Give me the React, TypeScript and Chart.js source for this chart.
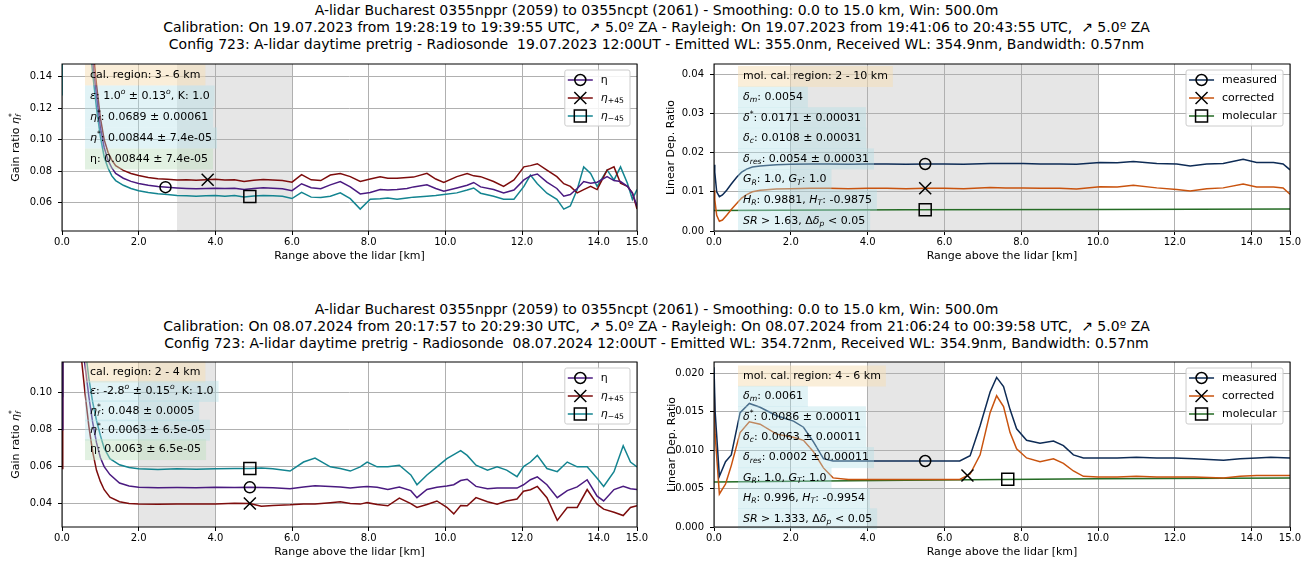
import React, { useEffect, useRef } from 'react';
import { Chart, registerables } from 'chart.js';
Chart.register(...registerables);

const FAM = '"DejaVu Sans", sans-serif';

// ---------------- titles ----------------
const TITLE_TOP = [
  'A-lidar Bucharest 0355nppr (2059) to 0355ncpt (2061) - Smoothing: 0.0 to 15.0 km, Win: 500.0m',
  'Calibration: On 19.07.2023 from 19:28:19 to 19:39:55 UTC,  \u2197 5.0\u00ba ZA - Rayleigh: On 19.07.2023 from 19:41:06 to 20:43:55 UTC,  \u2197 5.0\u00ba ZA',
  'Config 723: A-lidar daytime pretrig - Radiosonde  19.07.2023 12:00UT - Emitted WL: 355.0nm, Received WL: 354.9nm, Bandwidth: 0.57nm',
];
const TITLE_BOTTOM = [
  'A-lidar Bucharest 0355nppr (2059) to 0355ncpt (2061) - Smoothing: 0.0 to 15.0 km, Win: 500.0m',
  'Calibration: On 08.07.2024 from 20:17:57 to 20:29:30 UTC,  \u2197 5.0\u00ba ZA - Rayleigh: On 08.07.2024 from 21:06:24 to 00:39:58 UTC,  \u2197 5.0\u00ba ZA',
  'Config 723: A-lidar daytime pretrig - Radiosonde  08.07.2024 12:00UT - Emitted WL: 354.72nm, Received WL: 354.9nm, Bandwidth: 0.57nm',
];

const X_TICKS = [0, 2, 4, 6, 8, 10, 12, 14, 15];
const X_TITLE = 'Range above the lidar [km]';

// ---------------- top-left: gain ratio 2023 ----------------
const TL_X = [0, 0.03, 0.6, 0.8, 0.9, 1.0, 1.1, 1.2, 1.3, 1.4, 1.6, 1.8,
  2.0, 2.25, 2.5, 2.75, 3.0, 3.25, 3.5, 3.75, 4.0, 4.25, 4.5, 4.75, 5.0, 5.25, 5.5, 5.75, 6.0, 6.25, 6.5, 6.75, 7.0,
  7.26, 7.52, 7.78, 8.04, 8.3, 8.5, 8.74, 9.0, 9.17, 9.52, 9.75, 9.96,
  10.3, 10.57, 10.74, 10.92, 11.26, 11.52, 11.79,
  12.05, 12.22, 12.4, 12.65, 12.91, 13.09, 13.26, 13.44, 13.61, 13.79, 13.96,
  14.22, 14.4, 14.57, 14.75, 14.88, 15.0];
const TL_ETA = [0.30, 0.30, 0.20, 0.150, 0.128, 0.108, 0.095, 0.087, 0.082, 0.0785, 0.0755, 0.0735,
  0.0722, 0.0710, 0.0702, 0.0697, 0.0693, 0.0690, 0.0688, 0.0690, 0.0692, 0.0689, 0.0691, 0.0684, 0.0690, 0.0694, 0.0691, 0.0688, 0.0676, 0.0720, 0.0695, 0.0688, 0.0713,
  0.0734, 0.0700, 0.0655, 0.0665, 0.0683, 0.0680, 0.0683, 0.0690, 0.0700, 0.0713, 0.0690, 0.0672,
  0.0693, 0.0710, 0.0728, 0.0700, 0.0683, 0.0662, 0.0680,
  0.0744, 0.0770, 0.0782, 0.0730, 0.0690, 0.0641, 0.0652, 0.0690, 0.0734, 0.0723, 0.0730,
  0.0765, 0.0740, 0.0734, 0.0703, 0.0660, 0.0579];
const TL_ETA_P45 = [0.30, 0.30, 0.21, 0.160, 0.135, 0.114, 0.100, 0.092, 0.087, 0.0835, 0.0805, 0.0785,
  0.0772, 0.0760, 0.0752, 0.0748, 0.0744, 0.0746, 0.0742, 0.0745, 0.0748, 0.0743, 0.0746, 0.0735, 0.0742, 0.0747, 0.0744, 0.0740, 0.0730, 0.0778, 0.0745, 0.0740, 0.0775,
  0.0785, 0.0765, 0.0734, 0.0750, 0.0765, 0.0755, 0.0755, 0.0760, 0.0762, 0.0786, 0.0750, 0.0728,
  0.0765, 0.0785, 0.0770, 0.0765, 0.0734, 0.0703, 0.0744,
  0.0827, 0.0835, 0.0847, 0.0806, 0.0765, 0.0720, 0.0703, 0.0662, 0.0683, 0.0703, 0.0683,
  0.0806, 0.0827, 0.0723, 0.0703, 0.0662, 0.0559];
const TL_ETA_M45 = [0.128, 0.30, 0.19, 0.142, 0.120, 0.102, 0.089, 0.082, 0.077, 0.074, 0.0710, 0.0690,
  0.0676, 0.0664, 0.0656, 0.0651, 0.0646, 0.0644, 0.0641, 0.0643, 0.0646, 0.0641, 0.0645, 0.0636, 0.0642, 0.0646, 0.0644, 0.0640, 0.0626, 0.0665, 0.0635, 0.0632, 0.0641,
  0.0662, 0.0625, 0.0559, 0.0621, 0.0625, 0.0630, 0.0621, 0.0630, 0.0635, 0.0641, 0.0645, 0.0652,
  0.0662, 0.0680, 0.0693, 0.0660, 0.0641, 0.0621, 0.0621,
  0.0703, 0.0775, 0.0720, 0.0660, 0.0621, 0.0559, 0.0579, 0.0683, 0.0827, 0.0785, 0.0703,
  0.0806, 0.0744, 0.0827, 0.0723, 0.0621, 0.0683];

// ---------------- top-right: depolarization 2023 ----------------
const TR_X = [0, 0.02, 0.07, 0.14, 0.22, 0.33, 0.45, 0.59, 0.72, 0.85, 1.0, 1.2, 1.45, 1.63,
  2.0, 2.5, 3.0, 3.5, 4.0, 4.5, 5.0, 5.5, 6.0, 6.5, 7.19, 7.6, 8.05, 8.5, 9.0, 9.44,
  10.05, 10.5, 10.92, 11.53, 12.05, 12.4, 12.83, 13.26, 13.78, 14.13, 14.57, 14.82, 15.0];
const TR_MEASURED = [0.0169, 0.0150, 0.0100, 0.00875, 0.0092, 0.0104, 0.0120, 0.0137, 0.0150, 0.0158, 0.0163, 0.0166, 0.0168, 0.0169,
  0.0170, 0.0171, 0.0171, 0.0170, 0.0171, 0.0171, 0.0170, 0.0171, 0.0171, 0.0170, 0.01725, 0.0172, 0.0172, 0.0171, 0.0171, 0.0170,
  0.0175, 0.0174, 0.0177, 0.0172, 0.0171, 0.0166, 0.0171, 0.0172, 0.0183, 0.0175, 0.0175, 0.0171, 0.0156];
const TR_CORRECTED = [0.0104, 0.0080, 0.0040, 0.0025, 0.0028, 0.0040, 0.0055, 0.0070, 0.0084, 0.0093, 0.0100, 0.0104, 0.0106, 0.0107,
  0.0108, 0.0109, 0.0109, 0.0108, 0.0109, 0.0109, 0.0108, 0.0109, 0.0109, 0.0108, 0.0111, 0.0110, 0.0110, 0.0109, 0.0109, 0.0107,
  0.0113, 0.0112, 0.0117, 0.0110, 0.0106, 0.0102, 0.0108, 0.0110, 0.0120, 0.0112, 0.0112, 0.0110, 0.0094];
const TR_MOL_X = [0, 5, 10, 15];
const TR_MOLECULAR = [0.00525, 0.0054, 0.0055, 0.0056];

// ---------------- bottom-left: gain ratio 2024 ----------------
const BL_X = [0, 0.02, 0.5, 0.6, 0.7, 0.8, 0.9, 1.0, 1.1, 1.25, 1.5, 1.75,
  2.0, 2.5, 3.0, 3.5, 4.0, 4.5, 4.9, 5.2, 5.5, 5.95, 6.3, 6.6, 7.0,
  7.26, 7.52, 7.78, 7.96, 8.22, 8.5, 8.8, 9.1, 9.26, 9.52, 9.78,
  10.04, 10.22, 10.4, 10.57, 10.8, 11.1, 11.35, 11.6, 11.87,
  12.04, 12.22, 12.4, 12.65, 12.92, 13.18, 13.44, 13.7, 13.96,
  14.13, 14.4, 14.64, 14.83, 15.0];
const BL_ETA = [0.080, 0.30, 0.135, 0.115, 0.098, 0.084, 0.073, 0.065, 0.060, 0.0557, 0.0511, 0.0495,
  0.0488, 0.0486, 0.0487, 0.0486, 0.0488, 0.0487, 0.0488, 0.0487, 0.0485, 0.0480, 0.0490, 0.0497, 0.0493,
  0.0490, 0.0484, 0.0490, 0.0493, 0.0488, 0.0476, 0.0490, 0.0470, 0.0432, 0.0476, 0.0488,
  0.0495, 0.0502, 0.0525, 0.0532, 0.0493, 0.0480, 0.0484, 0.0484, 0.0484,
  0.0502, 0.0529, 0.0545, 0.0502, 0.0432, 0.0470, 0.0490, 0.0529, 0.0440,
  0.0414, 0.0476, 0.0493, 0.0480, 0.0476];
const BL_ETA_P45 = [0.059, 0.30, 0.120, 0.100, 0.082, 0.068, 0.058, 0.052, 0.0475, 0.0435, 0.0410, 0.0400,
  0.0397, 0.0396, 0.0398, 0.0397, 0.0398, 0.0402, 0.0400, 0.0385, 0.0390, 0.0393, 0.0398, 0.0397, 0.0405,
  0.0410, 0.0400, 0.0397, 0.0405, 0.0395, 0.0388, 0.0430, 0.0400, 0.0379, 0.0395, 0.0414,
  0.0380, 0.0344, 0.0390, 0.0388, 0.0432, 0.0410, 0.0397, 0.0414, 0.0425,
  0.0467, 0.0475, 0.0493, 0.0432, 0.0309, 0.0379, 0.0379, 0.0476, 0.0397,
  0.0370, 0.0353, 0.0335, 0.0379, 0.0388];
const BL_ETA_M45 = [0.098, 0.30, 0.145, 0.125, 0.108, 0.095, 0.085, 0.077, 0.070, 0.0643, 0.0610, 0.0595,
  0.0588, 0.0584, 0.0588, 0.0586, 0.0589, 0.0590, 0.0590, 0.0592, 0.0588, 0.0576, 0.0625, 0.0646, 0.0599,
  0.0590, 0.0576, 0.0599, 0.0625, 0.0599, 0.0599, 0.0608, 0.0555, 0.0502, 0.0555, 0.0599,
  0.0643, 0.0665, 0.0687, 0.0661, 0.0608, 0.0581, 0.0599, 0.0581, 0.0546,
  0.0600, 0.0625, 0.0661, 0.0590, 0.0573, 0.0625, 0.0599, 0.0599, 0.0537,
  0.0493, 0.0573, 0.0713, 0.0625, 0.0599];

// ---------------- bottom-right: depolarization 2024 ----------------
const BR_X = [0, 0.03, 0.14, 0.3, 0.45, 0.68, 0.92, 1.2, 1.63, 2.07, 2.33, 2.59, 2.85, 3.1,
  3.5, 4.0, 4.5, 5.0, 5.5, 6.0, 6.4, 6.67, 6.93, 7.19, 7.36, 7.54, 7.71, 7.88, 8.14, 8.49, 8.84,
  9.1, 9.36, 9.62, 10.0, 10.5, 11.0, 11.53, 12.0, 12.5, 13.27, 13.7, 14.13, 14.5, 15.0];
const BR_MEASURED = [0.0208, 0.0150, 0.0066, 0.0085, 0.0094, 0.0149, 0.0161, 0.0156, 0.0145, 0.0138, 0.0130, 0.0111, 0.0089, 0.0086,
  0.0086, 0.0086, 0.0086, 0.0086, 0.0086, 0.0086, 0.0086, 0.0093, 0.0132, 0.0176, 0.0195, 0.0183, 0.0153, 0.0128, 0.0113, 0.0109, 0.0112,
  0.0106, 0.0094, 0.0090, 0.0090, 0.0090, 0.0091, 0.0090, 0.0090, 0.0089, 0.0087, 0.0089, 0.0090, 0.0091, 0.0090];
const BR_CORRECTED = [0.0191, 0.0120, 0.0043, 0.0056, 0.0080, 0.0123, 0.0137, 0.0134, 0.0121, 0.0117, 0.0113, 0.0098, 0.0077, 0.0064,
  0.0062, 0.0062, 0.0062, 0.0062, 0.0062, 0.0062, 0.0062, 0.0069, 0.0094, 0.0149, 0.0171, 0.0157, 0.0123, 0.0102, 0.0090, 0.0085, 0.0089,
  0.0083, 0.0073, 0.0066, 0.0065, 0.0065, 0.0066, 0.0065, 0.0065, 0.0065, 0.0064, 0.0066, 0.0067, 0.0067, 0.0067];
const BR_MOL_X = [0, 5, 10, 15];
const BR_MOLECULAR = [0.00585, 0.0061, 0.0063, 0.0064];

// ---------------- annotations ----------------
const TL_NOTES = ['cal. region: 3 - 6 km', '$\u03b5$: 1.0$^{o}$ \u00b1 0.13$^{o}$, K: 1.0', '$\u03b7_{f}^{*}$: 0.0689 \u00b1 0.00061', '$\u03b7^{*}$: 0.00844 \u00b1 7.4e-05', '\u03b7: 0.00844 \u00b1 7.4e-05'];
const TR_NOTES = ['mol. cal. region: 2 - 10 km', '$\u03b4_{m}$: 0.0054', '$\u03b4^{*}$: 0.0171 \u00b1 0.00031', '$\u03b4_{c}$: 0.0108 \u00b1 0.00031', '$\u03b4_{res}$: 0.0054 \u00b1 0.00031', '$G_{R}$: 1.0, $G_{T}$: 1.0', '$H_{R}$: 0.9881, $H_{T}$: -0.9875', '$SR$ > 1.63, \u0394$\u03b4_{p}$ < 0.05'];
const BL_NOTES = ['cal. region: 2 - 4 km', '$\u03b5$: -2.8$^{o}$ \u00b1 0.15$^{o}$, K: 1.0', '$\u03b7_{f}^{*}$: 0.048 \u00b1 0.0005', '$\u03b7^{*}$: 0.0063 \u00b1 6.5e-05', '\u03b7: 0.0063 \u00b1 6.5e-05'];
const BR_NOTES = ['mol. cal. region: 4 - 6 km', '$\u03b4_{m}$: 0.0061', '$\u03b4^{*}$: 0.0086 \u00b1 0.00011', '$\u03b4_{c}$: 0.0063 \u00b1 0.00011', '$\u03b4_{res}$: 0.0002 \u00b1 0.00011', '$G_{R}$: 1.0, $G_{T}$: 1.0', '$H_{R}$: 0.996, $H_{T}$: -0.9954', '$SR$ > 1.333, \u0394$\u03b4_{p}$ < 0.05'];
const GAIN_NOTE_COLORS = ['wheat', 'cyan', 'cyan', 'cyan', 'green'];
const DEPOL_NOTE_COLORS = ['wheat', 'cyan', 'cyan', 'cyan', 'cyan', 'cyan', 'cyan', 'cyan'];
const NOTE_FILL: Record<string, string> = {
  wheat: 'rgba(245,222,179,0.5)',
  cyan: 'rgba(176,224,232,0.38)',
  green: 'rgba(190,225,190,0.45)',
};

const GAIN_LABELS = ['\u03b7', '$\u03b7$_{+45}', '$\u03b7$_{\u221245}'];
const DEPOL_LABELS = ['measured', 'corrected', 'molecular'];

const COL_ETA = '#4a1a80';
const COL_P45 = '#7d0c0c';
const COL_M45 = '#138490';
const COL_MEAS = '#0d2b55';
const COL_CORR = '#c9530e';
const COL_MOL = '#246b24';
const SPAN_FILL = '#e6e6e6';

// ---------------- rich text ----------------
type Seg = { t: string; it: boolean; m: number };
function parseRich(s: string): Seg[] {
  const out: Seg[] = [];
  let it = false;
  let buf = '';
  const flush = () => { if (buf) out.push({ t: buf, it, m: 0 }); buf = ''; };
  for (let i = 0; i < s.length;) {
    const c = s[i];
    if (c === '$') { flush(); it = !it; i++; }
    else if ((c === '_' || c === '^') && s[i + 1] === '{') {
      flush();
      const j = s.indexOf('}', i);
      out.push({ t: s.slice(i + 2, j), it, m: c === '_' ? 1 : 2 });
      i = j + 1;
    } else { buf += c; i++; }
  }
  flush();
  return out;
}
function richText(ctx: CanvasRenderingContext2D, s: string, x: number, y: number, size: number, draw = true): number {
  const segs = parseRich(s);
  let cx = x;
  let subStart = x;
  ctx.save();
  ctx.textBaseline = 'middle';
  ctx.textAlign = 'left';
  ctx.fillStyle = '#000';
  segs.forEach((g, k) => {
    const fs = g.m ? size * 0.7 : size;
    ctx.font = `${g.it ? 'italic ' : ''}${fs}px ${FAM}`;
    let sx = cx;
    if (g.m === 2 && k > 0 && segs[k - 1].m === 1) sx = subStart;
    const dy = g.m === 1 ? size * 0.28 : g.m === 2 ? -size * 0.36 : 0;
    const w = ctx.measureText(g.t).width;
    if (draw) ctx.fillText(g.t, sx, y + dy);
    if (g.m === 1) subStart = sx;
    cx = Math.max(cx, sx + w);
  });
  ctx.restore();
  return cx - x;
}

function valueAt(xs: number[], ys: number[], x: number): number {
  for (let i = 1; i < xs.length; i++) {
    if (x <= xs[i]) {
      const t = (x - xs[i - 1]) / (xs[i] - xs[i - 1]);
      return ys[i - 1] + t * (ys[i] - ys[i - 1]);
    }
  }
  return ys[ys.length - 1];
}

function drawMarker(ctx: CanvasRenderingContext2D, kind: string, x: number, y: number) {
  ctx.save();
  ctx.strokeStyle = '#000';
  ctx.lineWidth = 1.5;
  ctx.beginPath();
  if (kind === 'circle') ctx.arc(x, y, 5.5, 0, Math.PI * 2);
  else if (kind === 'crossRot') { ctx.moveTo(x - 6, y - 6); ctx.lineTo(x + 6, y + 6); ctx.moveTo(x - 6, y + 6); ctx.lineTo(x + 6, y - 6); }
  else ctx.rect(x - 6, y - 6, 12, 12);
  ctx.stroke();
  ctx.restore();
}

const MARKERS = ['circle', 'crossRot', 'rect'];

type Series = { xs: number[]; ys: number[]; color: string; label: string; markX: number };
type PanelCfg = {
  series: Series[]; yMin: number; yMax: number; yTicks: number[]; yDec: number; span: number[];
  notes: string[]; noteColors: string[]; noteTop: number; noteStep: number; noteX: number;
  yTitle: string; yTitleOff: number;
  left: number; top: number; width: number; height: number; padTop: number; padRight: number; yAxisW: number; xAxisH: number;
};

const TL_CFG: PanelCfg = {
  series: [
    { xs: TL_X, ys: TL_ETA, color: COL_ETA, label: GAIN_LABELS[0], markX: 2.7 },
    { xs: TL_X, ys: TL_ETA_P45, color: COL_P45, label: GAIN_LABELS[1], markX: 3.8 },
    { xs: TL_X, ys: TL_ETA_M45, color: COL_M45, label: GAIN_LABELS[2], markX: 4.9 },
  ],
  yMin: 0.042, yMax: 0.148, yTicks: [0.06, 0.08, 0.10, 0.12, 0.14], yDec: 2, span: [3, 6],
  notes: TL_NOTES, noteColors: GAIN_NOTE_COLORS, noteTop: 11, noteStep: 21, noteX: 28,
  yTitle: 'Gain ratio $\u03b7_{f}^{*}$', yTitleOff: 46,
  left: 0, top: 52, width: 656, height: 232, padTop: 7, padRight: 19, yAxisW: 62, xAxisH: 53,
};
const TR_CFG: PanelCfg = {
  series: [
    { xs: TR_X, ys: TR_MEASURED, color: COL_MEAS, label: DEPOL_LABELS[0], markX: 5.5 },
    { xs: TR_X, ys: TR_CORRECTED, color: COL_CORR, label: DEPOL_LABELS[1], markX: 5.5 },
    { xs: TR_MOL_X, ys: TR_MOLECULAR, color: COL_MOL, label: DEPOL_LABELS[2], markX: 5.5 },
  ],
  yMin: 0, yMax: 0.0426, yTicks: [0, 0.01, 0.02, 0.03, 0.04], yDec: 2, span: [2, 10],
  notes: TR_NOTES, noteColors: DEPOL_NOTE_COLORS, noteTop: 12.5, noteStep: 20.6, noteX: 29,
  yTitle: 'Linear Dep. Ratio', yTitleOff: 43,
  left: 656, top: 52, width: 657, height: 232, padTop: 7, padRight: 23, yAxisW: 58, xAxisH: 53,
};
const BL_CFG: PanelCfg = {
  series: [
    { xs: BL_X, ys: BL_ETA, color: COL_ETA, label: GAIN_LABELS[0], markX: 4.9 },
    { xs: BL_X, ys: BL_ETA_P45, color: COL_P45, label: GAIN_LABELS[1], markX: 4.9 },
    { xs: BL_X, ys: BL_ETA_M45, color: COL_M45, label: GAIN_LABELS[2], markX: 4.9 },
  ],
  yMin: 0.0273, yMax: 0.1167, yTicks: [0.04, 0.06, 0.08, 0.10], yDec: 2, span: [2, 4],
  notes: BL_NOTES, noteColors: GAIN_NOTE_COLORS, noteTop: 10, noteStep: 19.4, noteX: 28,
  yTitle: 'Gain ratio $\u03b7_{f}^{*}$', yTitleOff: 46,
  left: 0, top: 350, width: 656, height: 216, padTop: 7, padRight: 19, yAxisW: 62, xAxisH: 39,
};
const BR_CFG: PanelCfg = {
  series: [
    { xs: BR_X, ys: BR_MEASURED, color: COL_MEAS, label: DEPOL_LABELS[0], markX: 5.5 },
    { xs: BR_X, ys: BR_CORRECTED, color: COL_CORR, label: DEPOL_LABELS[1], markX: 6.6 },
    { xs: BR_MOL_X, ys: BR_MOLECULAR, color: COL_MOL, label: DEPOL_LABELS[2], markX: 7.65 },
  ],
  yMin: 0, yMax: 0.0215, yTicks: [0, 0.005, 0.01, 0.015, 0.02], yDec: 3, span: [4, 6],
  notes: BR_NOTES, noteColors: DEPOL_NOTE_COLORS, noteTop: 14, noteStep: 20.4, noteX: 29,
  yTitle: 'Linear Dep. Ratio', yTitleOff: 42,
  left: 656, top: 350, width: 657, height: 216, padTop: 7, padRight: 23, yAxisW: 58, xAxisH: 39,
};

function makePlugin(p: PanelCfg) {
  return {
    id: 'panelDeco',
    beforeDraw(chart: any) {
      const { ctx, chartArea: a, scales } = chart;
      const x0 = scales.x.getPixelForValue(p.span[0]);
      const x1 = scales.x.getPixelForValue(p.span[1]);
      ctx.save();
      ctx.fillStyle = SPAN_FILL;
      ctx.fillRect(x0, a.top, x1 - x0, a.bottom - a.top);
      ctx.restore();
    },
    afterDatasetsDraw(chart: any) {
      const { ctx, chartArea: a, scales } = chart;
      p.series.forEach((s, i) => {
        const v = valueAt(s.xs, s.ys, s.markX);
        drawMarker(ctx, MARKERS[i], scales.x.getPixelForValue(s.markX), scales.y.getPixelForValue(v));
      });
      p.notes.forEach((s, i) => {
        const cy = a.top + p.noteTop + i * p.noteStep;
        const tx = a.left + p.noteX;
        const w = richText(ctx, s, tx, cy, 11, false);
        ctx.save();
        ctx.fillStyle = NOTE_FILL[p.noteColors[i]];
        ctx.fillRect(tx - 5, cy - 10.5, w + 10, 21);
        ctx.restore();
        richText(ctx, s, tx, cy, 11, true);
      });
    },
    afterDraw(chart: any) {
      const { ctx, chartArea: a } = chart;
      ctx.save();
      ctx.strokeStyle = '#000';
      ctx.lineWidth = 1;
      ctx.strokeRect(a.left, a.top, a.right - a.left, a.bottom - a.top);
      ctx.restore();
      const widths = p.series.map((s) => richText(ctx, s.label, 0, 0, 11, false));
      const w = 3 + 25 + 8 + Math.max(...widths) + 6;
      const h = 56;
      const x0 = a.right - 7 - w;
      const y0 = a.top + 6;
      ctx.save();
      ctx.fillStyle = 'rgba(255,255,255,0.85)';
      ctx.strokeStyle = '#cccccc';
      ctx.lineWidth = 1;
      ctx.beginPath();
      (ctx as any).roundRect ? (ctx as any).roundRect(x0, y0, w, h, 2) : ctx.rect(x0, y0, w, h);
      ctx.fill();
      ctx.stroke();
      ctx.restore();
      p.series.forEach((s, i) => {
        const cy = y0 + 10 + i * 18;
        ctx.save();
        ctx.strokeStyle = s.color;
        ctx.lineWidth = 1.5;
        ctx.beginPath();
        ctx.moveTo(x0 + 3, cy);
        ctx.lineTo(x0 + 28, cy);
        ctx.stroke();
        ctx.restore();
        drawMarker(ctx, MARKERS[i], x0 + 15.5, cy);
        richText(ctx, s.label, x0 + 36, cy, 11, true);
      });
      ctx.save();
      ctx.fillStyle = '#000';
      ctx.font = `11px ${FAM}`;
      ctx.textAlign = 'center';
      ctx.textBaseline = 'middle';
      ctx.fillText(X_TITLE, (a.left + a.right) / 2, a.bottom + 25);
      ctx.restore();
      ctx.save();
      ctx.translate(a.left - p.yTitleOff, (a.top + a.bottom) / 2);
      ctx.rotate(-Math.PI / 2);
      const tw = richText(ctx, p.yTitle, 0, 0, 11, false);
      richText(ctx, p.yTitle, -tw / 2, 0, 11, true);
      ctx.restore();
    },
  };
}

function Panel({ cfg }: { cfg: PanelCfg }) {
  const ref = useRef<HTMLCanvasElement>(null);
  useEffect(() => {
    const datasets: any[] = cfg.series.map((s) => ({
      label: s.label,
      data: s.xs.map((x, i) => ({ x, y: s.ys[i] })),
      borderColor: s.color,
      backgroundColor: s.color,
      borderWidth: 1.5,
      pointRadius: 0,
      tension: 0,
      fill: false,
    }));
    const tickFont = { family: FAM, size: 10 };
    const chart = new Chart(ref.current as HTMLCanvasElement, {
      type: 'line',
      data: { datasets },
      options: {
        animation: false,
        responsive: false,
        devicePixelRatio: 1,
        layout: { padding: { top: cfg.padTop, right: cfg.padRight, left: 0, bottom: 0 } },
        plugins: { legend: { display: false }, tooltip: { enabled: false }, title: { display: false } },
        scales: {
          x: {
            type: 'linear', min: 0, max: 15,
            afterBuildTicks: (s: any) => { s.ticks = X_TICKS.map((v) => ({ value: v })); },
            afterFit: (s: any) => { s.height = cfg.xAxisH; },
            ticks: { font: tickFont, color: '#000', padding: 1, maxRotation: 0, autoSkip: false, callback: (v: any) => Number(v).toFixed(1) },
            grid: { color: '#b0b0b0', lineWidth: 1, tickColor: '#000', tickLength: 4, drawTicks: true },
            border: { display: false },
          },
          y: {
            type: 'linear', min: cfg.yMin, max: cfg.yMax,
            afterBuildTicks: (s: any) => { s.ticks = cfg.yTicks.map((v) => ({ value: v })); },
            afterFit: (s: any) => { s.width = cfg.yAxisW; },
            ticks: { font: tickFont, color: '#000', padding: 6, autoSkip: false, callback: (v: any) => Number(v).toFixed(cfg.yDec) },
            grid: { color: '#b0b0b0', lineWidth: 1, tickColor: '#000', tickLength: 4, drawTicks: true },
            border: { display: false },
          },
        },
      } as any,
      plugins: [makePlugin(cfg) as any],
    });
    return () => chart.destroy();
  }, [cfg]);
  return (
    <canvas
      ref={ref}
      width={cfg.width}
      height={cfg.height}
      style={{ position: 'absolute', left: cfg.left, top: cfg.top, width: cfg.width, height: cfg.height }}
    />
  );
}

function TitleBlock({ lines, top }: { lines: string[]; top: number }) {
  return (
    <div style={{ position: 'absolute', left: 0, top, width: 1313, textAlign: 'center', fontFamily: FAM, fontSize: 14, lineHeight: '17px', color: '#000', whiteSpace: 'pre' }}>
      {lines.map((l, i) => <div key={i}>{l}</div>)}
    </div>
  );
}

export default function App() {
  return (
    <div style={{ position: 'absolute', left: 0, top: 0, width: 1313, height: 566, overflow: 'hidden', background: '#fff' }}>
      <TitleBlock lines={TITLE_TOP} top={2} />
      <TitleBlock lines={TITLE_BOTTOM} top={301} />
      <Panel cfg={TL_CFG} />
      <Panel cfg={TR_CFG} />
      <Panel cfg={BL_CFG} />
      <Panel cfg={BR_CFG} />
    </div>
  );
}
